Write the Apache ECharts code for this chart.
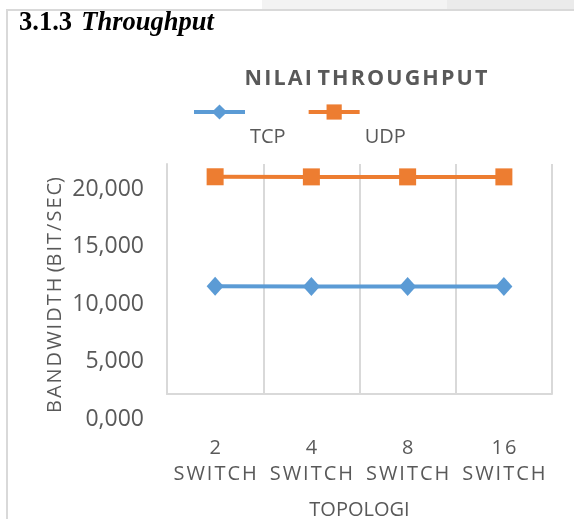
<!DOCTYPE html>
<html>
<head>
<meta charset="utf-8">
<script src="https://cdn.jsdelivr.net/npm/echarts@6/dist/echarts.min.js"></script>
<style>
  html, body { margin: 0; padding: 0; background: #fff; }
  #chart { width: 574px; height: 519px; }
</style>
</head>
<body>
<div id="chart"></div>
<script>
// categories and values
const categories = ['2\nS\u200aW\u200aI\u200aT\u200aC\u200aH', '4\nS\u200aW\u200aI\u200aT\u200aC\u200aH', '8\nS\u200aW\u200aI\u200aT\u200aC\u200aH', '1\u200a6\nS\u200aW\u200aI\u200aT\u200aC\u200aH']
const tcp = [9360, 9340, 9340, 9340]
const udp = [18890, 18880, 18880, 18880]
const yTicks = [0, 5000, 10000, 15000, 20000]

const grey = '#595959'
const lineGrey = '#d9d9d9'
const font = 'Open Sans'

const myChart = echarts.init(document.getElementById('chart'))

const fmt = v => {
  // 20000 -> 20,000 ; 0 -> 0,000 (as in the source)
  if (v === 0) return '0,000'
  return String(v).replace(/\B(?=(\d{3})+(?!\d))/g, ',')
}

const opt = {
  backgroundColor: '#fff',
  animation: false,
  textStyle: { fontFamily: font },
  graphic: [
    { type: 'rect', shape: { x: 262, y: 0, width: 185, height: 9 }, style: { fill: '#f3f3f3' }, silent: true },
    { type: 'rect', shape: { x: 447, y: 0, width: 127, height: 9 }, style: { fill: '#ebebeb' }, silent: true },
    { type: 'line', shape: { x1: 6, y1: 10, x2: 574, y2: 10 }, style: { stroke: lineGrey, lineWidth: 2 }, silent: true },
    { type: 'line', shape: { x1: 7, y1: 10, x2: 7, y2: 519 }, style: { stroke: lineGrey, lineWidth: 2 }, silent: true }
  ],
  title: [
    {
      text: '{a|3.1.3}  {b|Throughput}',
      left: 14,
      top: 5,
      textStyle: {
        rich: {
          a: { fontFamily: 'Liberation Serif', fontWeight: 'bold', fontSize: 26.5, color: '#000' },
          b: { fontFamily: 'Liberation Serif', fontWeight: 'bold', fontStyle: 'italic', fontSize: 26.5, color: '#000' }
        }
      }
    },
    {
      text: 'N\u200aI\u200aL\u200aA\u200aI T\u200aH\u200aR\u200aO\u200aU\u200aG\u200aH\u200aP\u200aU\u200aT',
      left: 361,
      textAlign: 'center',
      top: 63,
      textStyle: { fontFamily: font, fontWeight: 'bold', fontSize: 21.5, color: grey }
    }
  ],
  legend: {
    left: 187,
    top: 57,
    itemWidth: 51,
    itemHeight: 19,
    itemGap: 21,
    lineStyle: { width: 4 },
    formatter: name => '\n' + name,
    textStyle: { color: grey, fontSize: 20, fontFamily: font, lineHeight: 50 },
    data: ['TCP', 'UDP']
  },
  grid: {
    left: 167,
    right: 22,
    top: 164,
    bottom: 125,
    outerBoundsMode: 'none'
  },
  xAxis: {
    type: 'category',
    data: categories,
    boundaryGap: true,
    name: 'TOPOLOGI',
    nameLocation: 'middle',
    nameGap: 106,
    nameTextStyle: { color: grey, fontSize: 20, fontFamily: font },
    axisLine: { show: true, lineStyle: { color: lineGrey, width: 2 } },
    axisTick: { show: false },
    splitLine: { show: true, lineStyle: { color: lineGrey, width: 2 } },
    axisLabel: {
      color: grey,
      fontSize: 20,
      lineHeight: 26,
      margin: 41,
      verticalAlign: 'top',
      interval: 0
    }
  },
  yAxis: {
    type: 'value',
    min: 0,
    max: 20000,
    interval: 5000,
    name: 'B\u200aA\u200aN\u200aD\u200aW\u200aI\u200aD\u200aT\u200aH (B\u200aI\u200aT\u200a/\u200aS\u200aE\u200aC)',
    nameLocation: 'middle',
    nameGap: 102,
    nameMoveOverlap: false,
    nameTextStyle: { color: grey, fontSize: 20, fontFamily: font, padding: [0, 32, 0, 0] },
    axisLine: { show: true, lineStyle: { color: lineGrey, width: 2 } },
    axisTick: { show: false },
    splitLine: { show: false },
    axisLabel: {
      color: grey,
      fontSize: 23,
      lineHeight: 50,
      verticalAlign: 'top',
      margin: 23,
      showMinLabel: true,
      showMaxLabel: true,
      formatter: v => (yTicks.indexOf(v) > -1 ? fmt(v) : '')
    }
  },
  series: [
    {
      name: 'TCP',
      type: 'line',
      data: tcp,
      symbol: 'diamond',
      symbolSize: [17, 19],
      lineStyle: { width: 4, color: '#5b9bd5' },
      itemStyle: { color: '#5b9bd5' }
    },
    {
      name: 'UDP',
      type: 'line',
      data: udp,
      symbol: 'rect',
      symbolSize: 17,
      lineStyle: { width: 4, color: '#ed7d31' },
      itemStyle: { color: '#ed7d31' }
    }
  ]
}

myChart.setOption(opt, true)
window.addEventListener('resize', () => myChart.resize())
</script>
</body>
</html>
